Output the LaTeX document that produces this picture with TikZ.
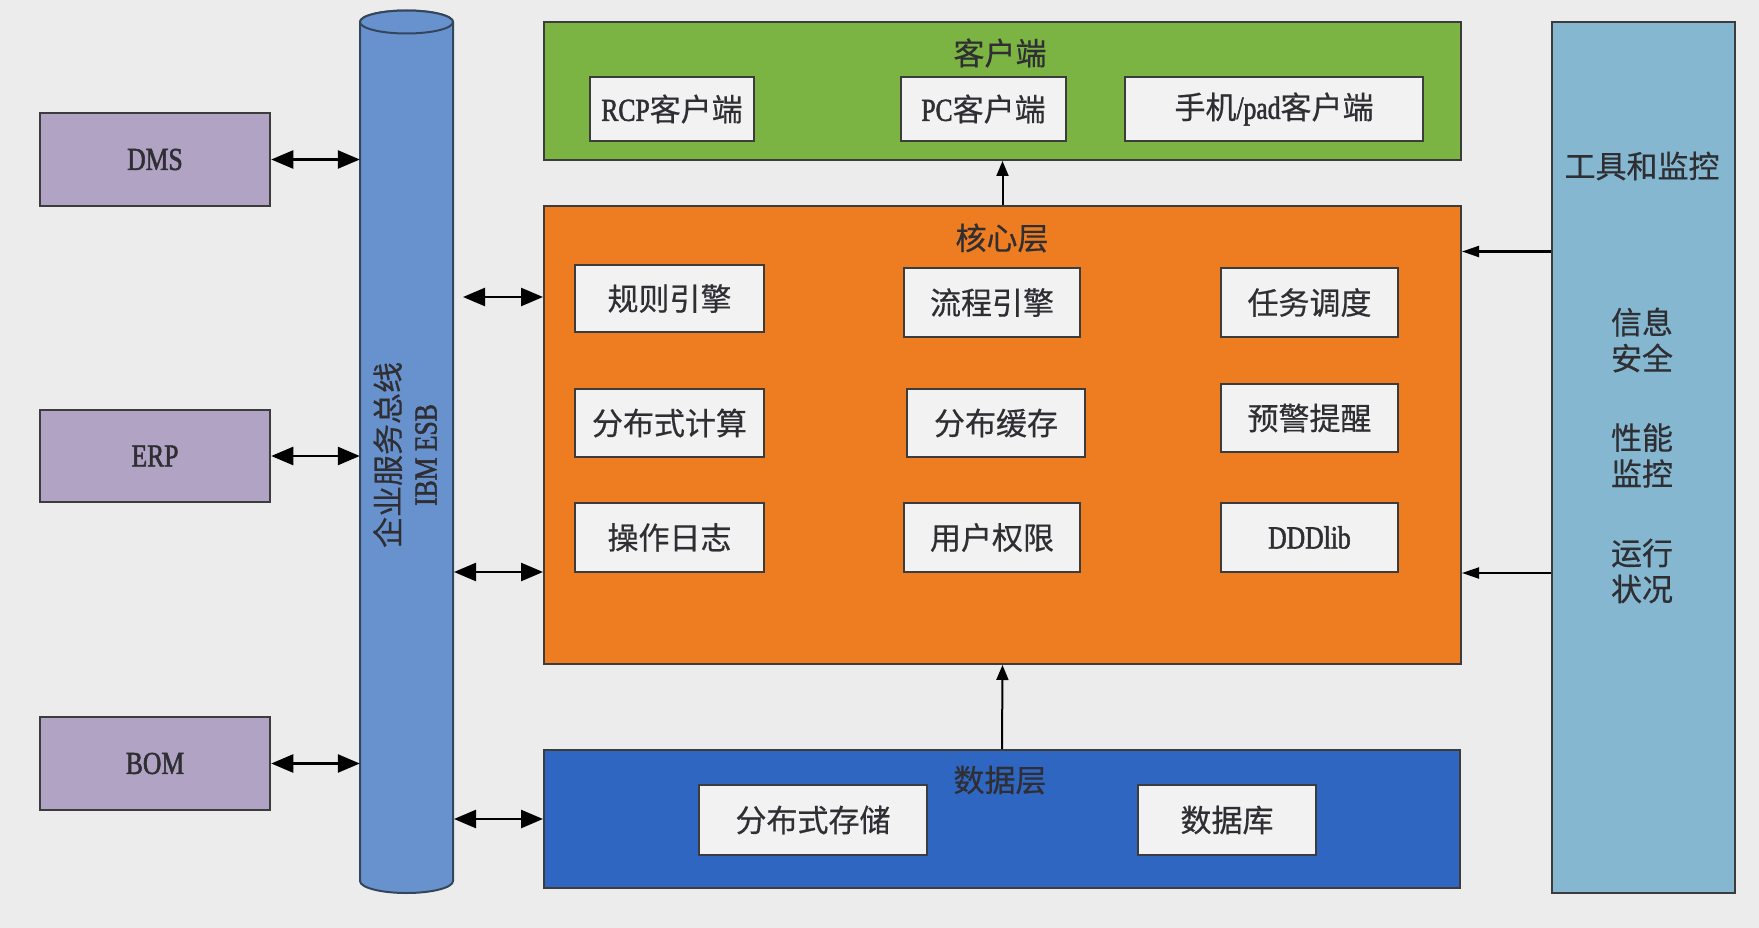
\documentclass[tikz,border=0pt]{standalone}
\usepackage{fontspec}
\setmainfont{Noto Sans CJK SC}[FakeBold=0.5]
\newfontfamily\lat{Liberation Serif}[FakeStretch=0.8, FakeBold=1.6]
\usetikzlibrary{arrows.meta,calc}
\definecolor{bg}{HTML}{ECECEC}
\definecolor{purp}{HTML}{B1A3C3}
\definecolor{cyl}{HTML}{6892CE}
\definecolor{cylb}{HTML}{34465C}
\definecolor{cgreen}{HTML}{7BB443}
\definecolor{corange}{HTML}{EE7D22}
\definecolor{cblue}{HTML}{2F66C2}
\definecolor{ctool}{HTML}{85B8D0}
\definecolor{boxfill}{HTML}{F2F2F2}
\definecolor{bord}{HTML}{3C3C3C}
\definecolor{txt}{HTML}{2E2E33}
\begin{document}
\begin{tikzpicture}[x=1pt,y=-1pt,
  layer/.style={draw=bord, line width=2pt, inner sep=0pt},
  inbox/.style={draw=bord, fill=boxfill, line width=2.5pt, inner sep=0pt, text=txt, font=\fontsize{31}{36}\selectfont},
  sysbox/.style={draw=bord, fill=purp, line width=2.5pt, inner sep=0pt, text=txt, font=\fontsize{32}{36}\selectfont\lat, minimum width=230pt},
  ttl/.style={inner sep=0pt, text=txt, font=\fontsize{31}{36}\selectfont},
  darr/.style={line width=2.5pt, {Triangle[length=22pt,width=18pt]}-{Triangle[length=22pt,width=18pt]}},
  uarr/.style={line width=2pt, -{Triangle[length=15pt,width=12pt]}},
  larr/.style={line width=2pt, -{Triangle[length=17pt,width=11pt]}}
]
\fill[bg] (0,0) rectangle (1759,928);
\useasboundingbox (0,0) rectangle (1759,928);

% purple systems
\node[sysbox, minimum height=93pt] (dms) at (155,159.5) {DMS};
\node[sysbox, minimum height=92pt] (erp) at (155,456) {ERP};
\node[sysbox, minimum height=93pt] (bom) at (155,763.5) {BOM};

% ESB cylinder
\node[inner sep=0pt, minimum width=93pt, minimum height=882pt] (esb) at (406.5,451.5) {};
\filldraw[fill=cyl, draw=cylb, line width=2pt] (360,22) -- (360,881) arc[start angle=180, end angle=360, x radius=46.5pt, y radius=12pt] -- (453,22) arc[start angle=0, end angle=180, x radius=46.5pt, y radius=11.5pt] -- cycle;
\draw[fill=cyl, draw=cylb, line width=2pt] (406.5,22) ellipse [x radius=46.5pt, y radius=11.5pt];
\node[rotate=90, align=center, inner sep=0pt, text=txt, font=\fontsize{31}{37}\selectfont] (esbt) at (405,455) {企业服务总线\\{\lat\fontsize{32}{37}\selectfont IBM ESB}};

% layers
\node[layer, fill=cgreen, minimum width=917pt, minimum height=138pt] (client) at (1002.5,91) {};
\node[layer, fill=corange, minimum width=917pt, minimum height=458pt] (core) at (1002.5,435) {};
\node[layer, fill=cblue, minimum width=916pt, minimum height=138pt] (data) at (1002,819) {};
\node[layer, fill=ctool, minimum width=183pt, minimum height=871pt] (tools) at (1643.5,457.5) {};

% titles
\node[ttl] (tc) at (1000,53) {客户端};
\node[ttl] (tk) at (1002,238) {核心层};
\node[ttl] (td) at (1000,780) {数据层};
\node[ttl] (tt) at (1642,166) {工具和监控};
\node[ttl, align=center] (t1) at (1642,340) {信息\\安全};
\node[ttl, align=center] (t2) at (1642,455.5) {性能\\监控};
\node[ttl, align=center] (t3) at (1642,571) {运行\\状况};

% client boxes
\node[inbox, minimum width=164pt, minimum height=64pt] (rcp) at (672,109) {{\lat\fontsize{32}{36}\selectfont RCP}客户端};
\node[inbox, minimum width=165pt, minimum height=64pt] (pc) at (983.5,109) {{\lat\fontsize{32}{36}\selectfont PC}客户端};
\node[inbox, minimum width=298pt, minimum height=64pt] (mob) at (1274,109) {手机{\lat\fontsize{32}{36}\selectfont /pad}客户端};

% core boxes
\node[inbox, minimum width=189pt, minimum height=67pt] (gz) at (669.5,298.5) {规则引擎};
\node[inbox, minimum width=176pt, minimum height=69pt] (lc) at (992,302.5) {流程引擎};
\node[inbox, minimum width=177pt, minimum height=69pt] (rw) at (1309.5,302.5) {任务调度};
\node[inbox, minimum width=189pt, minimum height=68pt] (fb) at (669.5,423) {分布式计算};
\node[inbox, minimum width=178pt, minimum height=68pt] (hc) at (996,423) {分布缓存};
\node[inbox, minimum width=177pt, minimum height=68pt] (yj) at (1309.5,418) {预警提醒};
\node[inbox, minimum width=189pt, minimum height=69pt] (cz) at (669.5,537.5) {操作日志};
\node[inbox, minimum width=176pt, minimum height=69pt] (yh) at (992,537.5) {用户权限};
\node[inbox, minimum width=177pt, minimum height=69pt] (dd) at (1309.5,537.5) {\lat\fontsize{32}{36}\selectfont DDDlib};

% data boxes
\node[inbox, minimum width=228pt, minimum height=70pt] (fc) at (813,820) {分布式存储};
\node[inbox, minimum width=178pt, minimum height=70pt] (db) at (1227,820) {数据库};

% connectors
\draw[darr] (dms.east) -- (dms.east -| esb.west);
\draw[darr] (erp.east) -- (erp.east -| esb.west);
\draw[darr] (bom.east) -- (bom.east -| esb.west);
\coordinate (c1) at (463,297);
\coordinate (c2) at (454,572);
\coordinate (c3) at (454,819);
\draw[darr] (c1) -- (c1 -| core.west);
\draw[darr] (c2) -- (c2 -| core.west);
\draw[darr] (c3) -- (c3 -| data.west);
\draw[uarr] (core.north) -- (client.south);
\draw[uarr] (data.north) -- (core.south);
\coordinate (r1) at (1552,251.5);
\coordinate (r2) at (1552,573);
\draw[larr] (r1 -| tools.west) -- (r1 -| core.east);
\draw[larr] (r2 -| tools.west) -- (r2 -| core.east);
\end{tikzpicture}
\end{document}
